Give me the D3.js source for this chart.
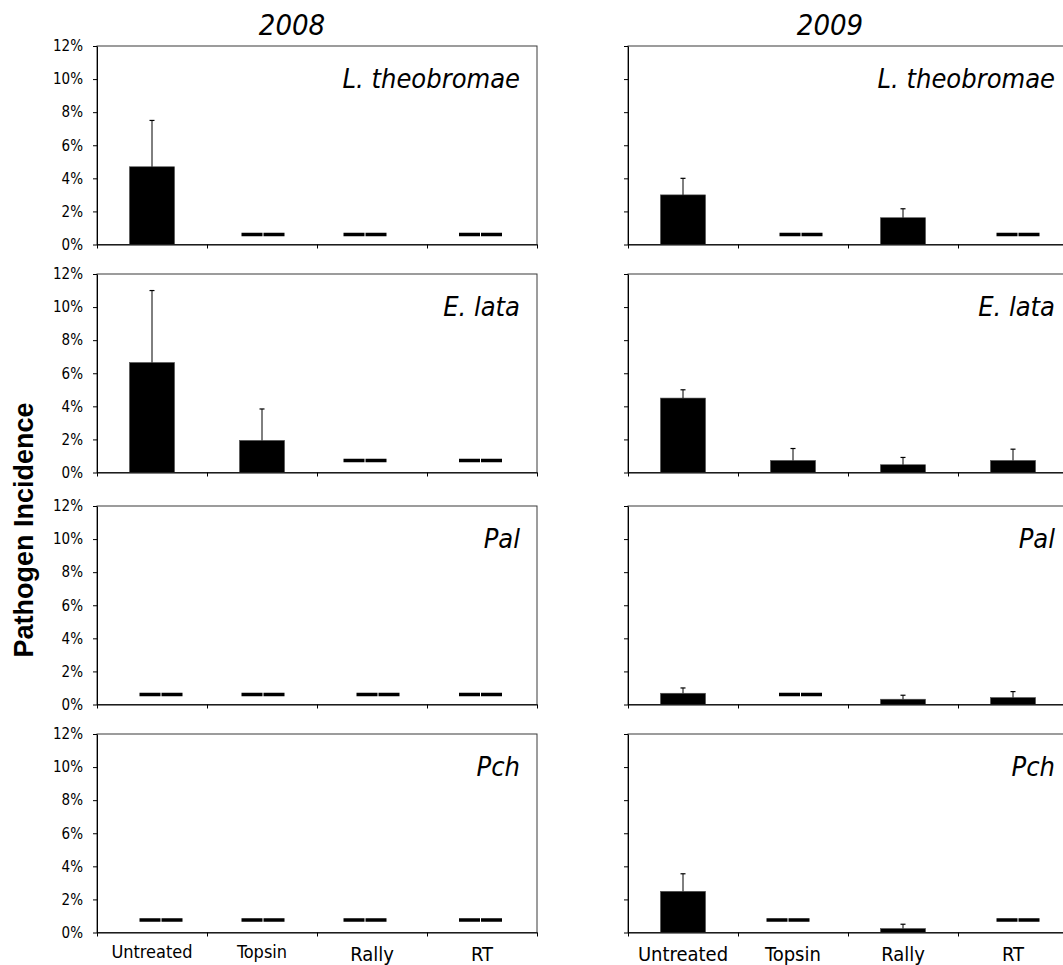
<!DOCTYPE html>
<html>
<head>
<meta charset="utf-8">
<script src="https://cdn.jsdelivr.net/npm/d3@7"></script>
<style>
  body { margin: 0; background: #fff; }
  svg text { font-family: "DejaVu Sans Condensed", "DejaVu Sans", sans-serif; font-stretch: condensed; fill: #000; }
</style>
</head>
<body>
<svg id="chart" width="1063" height="965"></svg>
<script>
// Treatments, seasons and pathogens
const treatments = ["Untreated", "Topsin", "Rally", "RT"];
const years = ["2008", "2009"];
const pathogens = ["L. theobromae", "E. lata", "Pal", "Pch"];
const yTicks = [0, 2, 4, 6, 8, 10, 12];

// Mean pathogen incidence (%) and standard error, 2008
const lt2008 = [4.7, 0, 0, 0];
const lt2008Err = [2.8, 0, 0, 0];
const el2008 = [6.65, 1.94, 0, 0];
const el2008Err = [4.35, 1.9, 0, 0];
const pal2008 = [0, 0, 0, 0];
const pal2008Err = [0, 0, 0, 0];
const pch2008 = [0, 0, 0, 0];
const pch2008Err = [0, 0, 0, 0];

// Mean pathogen incidence (%) and standard error, 2009
const lt2009 = [3.0, 0, 1.62, 0];
const lt2009Err = [1.0, 0, 0.54, 0];
const el2009 = [4.5, 0.73, 0.47, 0.73];
const el2009Err = [0.5, 0.72, 0.44, 0.68];
const pal2009 = [0.68, 0, 0.32, 0.42];
const pal2009Err = [0.32, 0, 0.24, 0.36];
const pch2009 = [2.49, 0, 0.24, 0];
const pch2009Err = [1.06, 0, 0.26, 0];

const means = [[lt2008, el2008, pal2008, pch2008], [lt2009, el2009, pal2009, pch2009]];
const errors = [[lt2008Err, el2008Err, pal2008Err, pch2008Err], [lt2009Err, el2009Err, pal2009Err, pch2009Err]];

// Layout
const W = 440, H = 198.5;
const colX = [97, 628];
const rowY = [46, 274, 506, 734];
const speciesInset = [17, 13];
const dashLift = [10, 12, 10, 12.5];
const dashShift = [
  [[9, 1, -7, -1.5], [9, 1, -7, -1.5], [9, 1, 6, -1.5], [9, 1, -7, -1.5]],
  [[8, 8, 0, 5], [0, 0, 0, 0], [7.5, 7.5, 0, 5], [-5, -5, 0, 5]]
];
const catLabelSize = [[18, 18, 20, 20], [20, 20, 20, 20]];

const svg = d3.select("#chart");

const x = d3.scaleBand().domain(treatments).range([0, W]).paddingInner(0.59).paddingOuter(0.295);
const xEdges = d3.scaleLinear().domain([0, treatments.length]).range([0, W]);
const y = d3.scaleLinear().domain([0, 12]).range([H, 0]);

years.forEach((yr, c) => {
  svg.append("text")
    .attr("x", c === 0 ? 292 : 830)
    .attr("y", 35)
    .attr("text-anchor", "middle")
    .style("font-size", "29px")
    .style("font-style", "italic")
    .text(yr);

  pathogens.forEach((p, r) => {
    const g = svg.append("g").attr("transform", `translate(${colX[c]},${rowY[r]})`);
    const vals = means[c][r];
    const errs = errors[c][r];
    const rows = treatments.map((t, i) => ({ t, i, v: vals[i], e: errs[i] }));

    // plot-area frame
    g.append("rect")
      .attr("x", 0).attr("y", 0).attr("width", W).attr("height", H)
      .attr("fill", "none").attr("stroke", "#3a3a3a").attr("stroke-width", 1);

    // bars
    g.selectAll("rect.bar").data(rows.filter(d => d.v > 0)).join("rect")
      .attr("class", "bar")
      .attr("x", d => x(d.t))
      .attr("y", d => y(d.v))
      .attr("width", x.bandwidth())
      .attr("height", d => H - y(d.v))
      .attr("fill", "#000")
      .attr("stroke", "#555").attr("stroke-width", 0.6);

    // error bars (upper only)
    const eb = g.selectAll("g.err").data(rows.filter(d => d.e > 0)).join("g").attr("class", "err");
    eb.append("line")
      .attr("x1", d => x(d.t) + x.bandwidth() / 2).attr("x2", d => x(d.t) + x.bandwidth() / 2)
      .attr("y1", d => y(d.v)).attr("y2", d => y(d.v + d.e))
      .attr("stroke", "#000").attr("stroke-width", 1);
    eb.append("line")
      .attr("x1", d => x(d.t) + x.bandwidth() / 2 - 2.5).attr("x2", d => x(d.t) + x.bandwidth() / 2 + 2.5)
      .attr("y1", d => y(d.v + d.e)).attr("y2", d => y(d.v + d.e))
      .attr("stroke", "#000").attr("stroke-width", 1.2);

    // zero-incidence markers (double dash)
    const zg = g.selectAll("g.zero").data(rows.filter(d => d.v === 0)).join("g").attr("class", "zero")
      .attr("transform", d => `translate(${x(d.t) + x.bandwidth() / 2 + dashShift[c][r][d.i]},${y(d.v) - dashLift[r]})`);
    [-21.5, 0.5].forEach(dx => {
      zg.append("rect").attr("x", dx).attr("y", -1.75).attr("width", 21).attr("height", 3.5).attr("fill", "#000");
    });

    // y axis
    const ya = g.append("g").call(
      d3.axisLeft(y).tickValues(yTicks).tickSize(4).tickSizeOuter(0).tickPadding(10)
        .tickFormat(c === 0 ? (d => d + "%") : (() => ""))
    );
    ya.select(".domain").attr("stroke", "#000");
    ya.selectAll(".tick line").attr("stroke", "#000");
    ya.selectAll(".tick text").style("font-size", "15px").style("font-family", null).attr("fill", "#000");

    // x axis
    const xa = g.append("g").attr("transform", `translate(0,${H})`).call(
      d3.axisBottom(xEdges).ticks(treatments.length).tickSize(4).tickSizeOuter(0).tickFormat(() => "")
    );
    xa.select(".domain").attr("stroke", "#000");
    xa.selectAll(".tick line").attr("stroke", "#000");

    // treatment labels on the bottom row
    if (r === pathogens.length - 1) {
      g.selectAll("text.cat").data(rows).join("text")
        .attr("class", "cat")
        .attr("x", d => x(d.t) + x.bandwidth() / 2)
        .attr("y", d => H + (catLabelSize[c][d.i] === 18 ? 25 : 28))
        .attr("text-anchor", "middle")
        .style("font-size", d => catLabelSize[c][d.i] + "px")
        .text(d => d.t);
    }

    // pathogen name
    g.append("text")
      .attr("x", W - speciesInset[c])
      .attr("y", 42)
      .attr("text-anchor", "end")
      .style("font-size", "27px")
      .style("font-style", "italic")
      .text(p);
  });
});

// shared y-axis title
svg.append("text")
  .attr("transform", "translate(33,530) rotate(-90)")
  .attr("text-anchor", "middle")
  .style("font-family", "'Liberation Sans', Arial, sans-serif")
  .style("font-stretch", "normal")
  .style("font-weight", "bold")
  .style("font-size", "27px")
  .text("Pathogen Incidence");
</script>
</body>
</html>
